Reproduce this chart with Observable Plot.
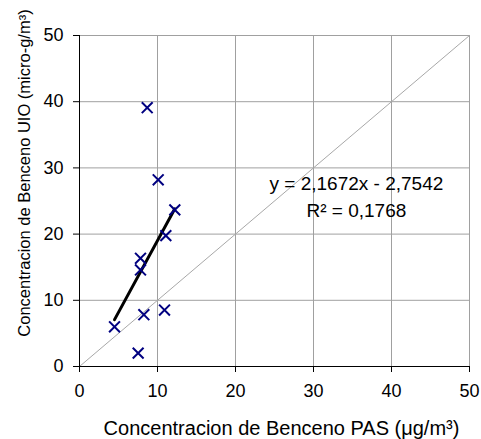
<!DOCTYPE html>
<html><head><meta charset="utf-8">
<script src="https://cdn.jsdelivr.net/npm/d3@7"></script>
<script src="https://cdn.jsdelivr.net/npm/@observablehq/plot@0.6"></script>
<style>body{margin:0;background:#fff}</style>
</head><body><div id="chart"></div>
<script>
const pasValues = [8.68, 10.09, 12.22, 11.07, 7.82, 7.82, 8.25, 10.9, 4.49, 7.52];
const uioValues = [39.1, 28.2, 23.66, 19.77, 16.34, 14.58, 7.82, 8.53, 6.0, 2.02];
const tickValues = [0, 10, 20, 30, 40, 50];
const identityLine = [0, 50];
const equationText = ["y = 2,1672x - 2,7542", "R² = 0,1768"];
const xTitle = "Concentracion de Benceno PAS (μg/m³)";
const yTitle = "Concentracion de Benceno UIO (micro-g/m³)";

const points = pasValues.map((x, i) => ({x, y: uioValues[i]}));
const diag = identityLine.map(v => ({x: v, y: v}));

const chart = Plot.plot({
  width: 481,
  height: 439,
  marginLeft: 79,
  marginRight: 12,
  marginTop: 35,
  marginBottom: 73,
  style: {fontFamily: "'Liberation Sans', Arial, sans-serif", fontSize: "18px", color: "black", background: "white"},
  x: {domain: [0, 50], ticks: tickValues},
  y: {domain: [0, 50], ticks: tickValues},
  marks: [
    Plot.gridX(tickValues, {stroke: "#a0a0a0", strokeOpacity: 1, strokeWidth: 1}),
    Plot.gridY(tickValues, {stroke: "#a0a0a0", strokeOpacity: 1, strokeWidth: 1}),
    Plot.line(diag, {x: "x", y: "y", stroke: "#a8a8a8", strokeWidth: 1}),
    Plot.ruleX([0], {stroke: "black", strokeWidth: 1}),
    Plot.ruleY([0], {stroke: "black", strokeWidth: 1}),
    Plot.axisX(tickValues, {tickSize: 6, tickPadding: 12, label: null, stroke: "black", fontSize: 18}),
    Plot.axisY(tickValues, {tickSize: 6, tickPadding: 10, label: null, stroke: "black", fontSize: 18}),
    Plot.linearRegressionY(points, {x: "x", y: "y", ci: 0, stroke: "black", strokeWidth: 3}),
    Plot.dot(points, {x: "x", y: "y", symbol: "times", r: 5, stroke: "#000080", strokeWidth: 2}),
    Plot.text([equationText.join("\n")], {x: 35.5, y: 27.6, lineAnchor: "top", textAnchor: "middle", fontSize: 19, lineHeight: 1.42, dy: -13, fill: "black"}),
    Plot.text([xTitle], {frameAnchor: "bottom", textAnchor: "middle", lineAnchor: "middle", dx: 7, dy: 62, fontSize: 20, fill: "black"}),
    Plot.text([yTitle], {frameAnchor: "left", textAnchor: "middle", rotate: -90, lineAnchor: "middle", dx: -55, dy: -28, fontSize: 16.5, fill: "black"})
  ]
});
document.getElementById("chart").append(chart);
</script>
</body></html>
